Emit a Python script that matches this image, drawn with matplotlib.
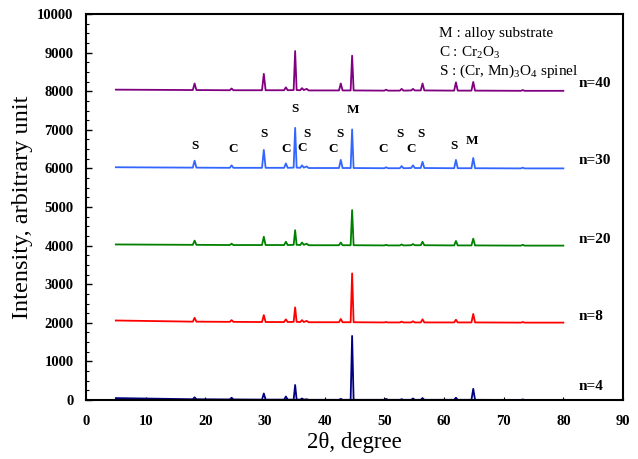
import matplotlib
matplotlib.use("Agg")
import matplotlib.pyplot as plt
from matplotlib.ticker import MultipleLocator

plt.rcParams['font.family'] = ['Liberation Serif', 'DejaVu Serif']
plt.rcParams['mathtext.fontset'] = 'custom'
plt.rcParams['mathtext.rm'] = 'Liberation Serif'

# vertices of the traces (2-theta, degree), shared by all five patterns
two_theta = [5.0,
             17.9, 18.2, 18.5,
             24.1, 24.4, 24.7,
             29.5, 29.8, 30.1,
             33.2, 33.5, 33.8,
             34.8, 35.05, 35.3,
             35.9, 36.2, 36.5,
             37.0, 37.3,
             42.4, 42.7, 43.0,
             44.35, 44.6, 44.85,
             50.0, 50.3, 50.6,
             52.6, 52.9, 53.2,
             54.5, 54.8, 55.1,
             56.1, 56.4, 56.7,
             61.7, 62.0, 62.3,
             64.6, 64.9, 65.2,
             72.9, 73.2, 73.5,
             80.0]

n40 = [8040,
       8030, 8200, 8030,
       8025, 8070, 8025,
       8025, 8450, 8025,
       8025, 8100, 8025,
       8030, 9040, 8030,
       8025, 8080, 8030,
       8060, 8020,
       8020, 8200, 8020,
       8020, 8920, 8020,
       8015, 8040, 8015,
       8015, 8060, 8015,
       8020, 8060, 8020,
       8020, 8200, 8020,
       8015, 8230, 8015,
       8015, 8240, 8015,
       8010, 8030, 8010,
       8010]

n30 = [6030,
       6020, 6200, 6020,
       6015, 6080, 6015,
       6015, 6480, 6015,
       6015, 6130, 6015,
       6020, 7050, 6020,
       6015, 6080, 6020,
       6050, 6010,
       6010, 6220, 6010,
       6010, 7010, 6010,
       6005, 6030, 6005,
       6005, 6060, 6005,
       6010, 6080, 6010,
       6010, 6170, 6010,
       6005, 6220, 6005,
       6005, 6270, 6005,
       6000, 6020, 6000,
       6000]

n20 = [4030,
       4020, 4130, 4020,
       4015, 4050, 4015,
       4015, 4230, 4015,
       4015, 4100, 4015,
       4020, 4400, 4020,
       4015, 4080, 4020,
       4050, 4010,
       4010, 4080, 4010,
       4010, 4920, 4010,
       4005, 4020, 4005,
       4005, 4030, 4005,
       4010, 4040, 4010,
       4010, 4100, 4010,
       4005, 4120, 4005,
       4005, 4180, 4005,
       4000, 4020, 4000,
       4000]

n8 = [2060,
      2030, 2130, 2030,
      2025, 2070, 2025,
      2020, 2200, 2020,
      2020, 2090, 2020,
      2025, 2400, 2025,
      2020, 2070, 2020,
      2050, 2015,
      2015, 2100, 2015,
      2015, 3280, 2015,
      2010, 2020, 2010,
      2010, 2030, 2010,
      2010, 2040, 2010,
      2010, 2090, 2010,
      2010, 2080, 2010,
      2010, 2230, 2010,
      2005, 2020, 2005,
      2005]

n4 = [50,
      20, 70, 20,
      15, 60, 15,
      10, 170, 10,
      10, 90, 10,
      10, 390, 10,
      10, 40, 10,
      20, 5,
      5, 30, 5,
      5, 1660, 5,
      5, 30, 5,
      5, 20, 5,
      5, 40, 5,
      5, 50, 5,
      5, 60, 5,
      5, 290, 5,
      0, 15, 0,
      0]

series = [n40, n30, n20, n8, n4]
series_names = ['n=40', 'n=30', 'n=20', 'n=8', 'n=4']
series_label_y = [8200, 6200, 4150, 2170, 350]
colors = ['#800080', '#3366ff', '#008000', '#ff0000', '#000080']

# phase labels above the n=30 pattern
peak_marks = ['S', 'C', 'S', 'C', 'S', 'C', 'S', 'C', 'S', 'M',
              'C', 'S', 'C', 'S', 'S', 'M']
peak_x = [18.2, 24.6, 29.8, 33.5, 35.1, 36.3, 37.0, 41.4, 42.6, 44.7,
          49.8, 52.6, 54.5, 56.2, 61.7, 64.7]
peak_y = [6580, 6490, 6890, 6510, 7530, 6540, 6890, 6490, 6890, 7510,
          6490, 6890, 6490, 6890, 6590, 6710]

legend_lines = ['M : alloy substrate',
                'C : Cr$_2$O$_3$',
                'S : (Cr, Mn)$_3$O$_4$ spinel']

fig = plt.figure(figsize=(6.38, 4.59), dpi=100)
ax = fig.add_axes([0.1348, 0.1285, 0.8417, 0.8410])

for ys, c in zip(series, colors):
    ax.plot(two_theta, ys, color=c, linewidth=1.3)

for name, yy in zip(series_names, series_label_y):
    ax.text(82.5, yy, name, fontsize=11, fontweight='bold', va='center')

for m, px, py in zip(peak_marks, peak_x, peak_y):
    ax.text(px, py, m, fontsize=9.5, fontweight='bold', ha='center', va='center')

for i, t in enumerate(legend_lines):
    ax.text(59.2, 9500 - i * 490, t, fontsize=11, va='center')

ax.set_xlim(0, 90)
ax.set_ylim(0, 10000)
ax.xaxis.set_major_locator(MultipleLocator(10))
ax.yaxis.set_major_locator(MultipleLocator(1000))
ax.yaxis.set_minor_locator(MultipleLocator(250))
ax.tick_params(axis='y', which='major', direction='in', length=4, width=1, pad=9)
ax.tick_params(axis='y', which='minor', direction='in', length=2.5, width=0.8)
ax.tick_params(axis='x', which='major', direction='in', length=2.5, width=0.8, pad=11)
for lab in ax.get_xticklabels() + ax.get_yticklabels():
    lab.set_fontweight('bold')
    lab.set_fontsize(10.5)
for sp in ax.spines.values():
    sp.set_linewidth(1.5)

ax.set_xlabel('2θ, degree', fontsize=16.5, labelpad=3)
ax.set_ylabel('Intensity, arbitrary unit', fontsize=17.5, labelpad=3)

fig.savefig('out.png', dpi=100)
